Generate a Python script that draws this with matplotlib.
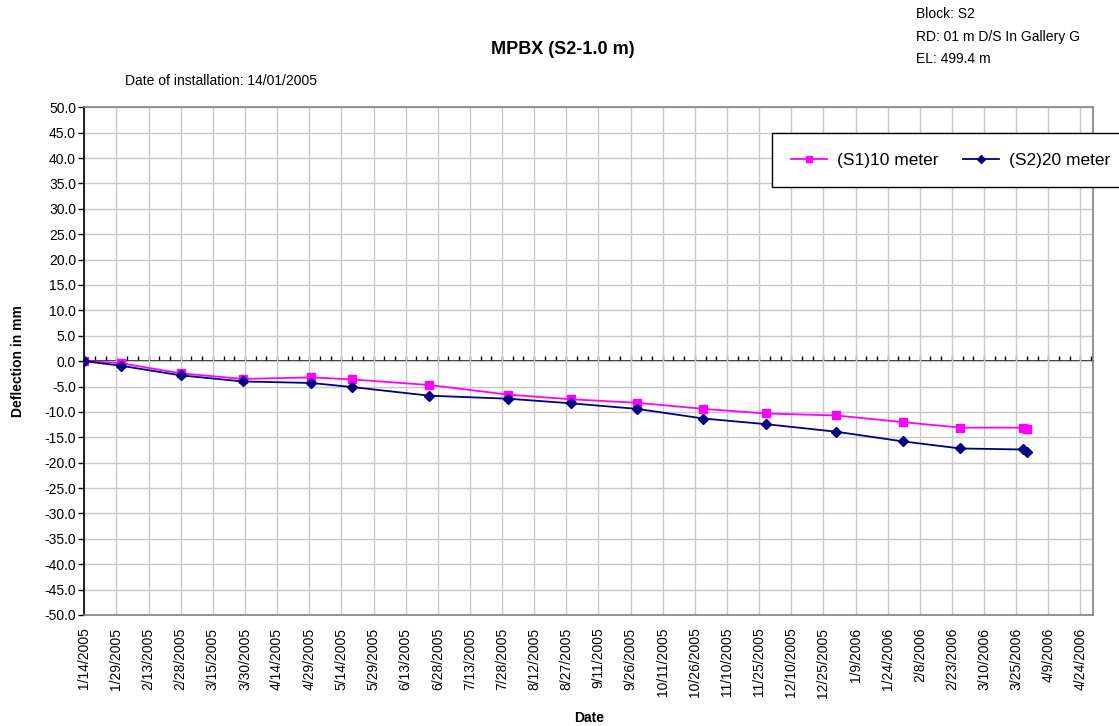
import matplotlib
matplotlib.use("Agg")
import matplotlib.pyplot as plt
import matplotlib.ticker as mticker
import matplotlib.dates as mdates
import pandas as pd

plt.rcParams['font.family'] = ['Liberation Sans', 'DejaVu Sans']

# ---- data ----
dates = ["2005-01-14", "2005-01-31", "2005-02-28", "2005-03-29", "2005-04-30",
         "2005-05-19", "2005-06-24", "2005-07-31", "2005-08-29", "2005-09-29",
         "2005-10-30", "2005-11-28", "2005-12-31", "2006-01-31", "2006-02-27",
         "2006-03-28", "2006-03-30"]
s1_10m = [0.0, -0.4, -2.4, -3.5, -3.2, -3.6, -4.7, -6.6, -7.5, -8.2,
          -9.4, -10.3, -10.7, -12.0, -13.1, -13.1, -13.4]
s2_20m = [0.0, -0.9, -2.8, -4.0, -4.3, -5.1, -6.8, -7.4, -8.3, -9.4,
          -11.3, -12.4, -13.9, -15.8, -17.2, -17.4, -17.8]
series_names = ["(S1)10 meter", "(S2)20 meter"]
y_ticks = [-50 + 5 * i for i in range(21)]
x_start, x_last_tick, x_end = "2005-01-14", "2006-04-24", "2006-04-30"

d = pd.to_datetime(dates)

fig = plt.figure(figsize=(11.19, 7.26), dpi=100)
ax = fig.add_axes([84.3 / 1119, 1 - 615 / 726, (1093.3 - 84.3) / 1119, (615 - 107.3) / 726])

ax.plot(d, s1_10m, color="#FF00FF", lw=1.3, marker="s", ms=6, mec="#FF00FF", label=series_names[0], zorder=4)
ax.plot(d, s2_20m, color="#000080", lw=1.3, marker="D", ms=5.5, mec="#000080", label=series_names[1], zorder=5)

ax.set_xlim(pd.Timestamp(x_start), pd.Timestamp(x_end))
ax.set_ylim(-50, 50)
ax.set_yticks(y_ticks)
ax.set_yticklabels([f"{v:.1f}" for v in y_ticks], fontsize=10)

xt = pd.date_range(x_start, x_last_tick, freq="15D")
ax.set_xticks(xt)
ax.set_xticklabels([f"{t.month}/{t.day}/{t.year}" for t in xt], rotation=90, fontsize=10)
ax.tick_params(axis="x", length=0, pad=9)
ax.tick_params(axis="y", length=4, direction="out", color="black", width=1, pad=2)

ax.grid(True, color="#c8c8c8", lw=1)
ax.set_axisbelow(True)
for s in ["top", "right", "bottom"]:
    ax.spines[s].set_color("#808080")
    ax.spines[s].set_linewidth(1.2)
ax.spines["left"].set_color("black")
ax.spines["left"].set_linewidth(1.2)

# horizontal axis line at zero with tick marks
sec = ax.secondary_xaxis(0.5)
for s in sec.spines.values():
    s.set_color("black")
    s.set_linewidth(1.2)
sec.set_xticks(xt)
sec.xaxis.set_minor_locator(mticker.FixedLocator(
    mdates.date2num(pd.date_range(x_start, x_end, freq="5D"))))
sec.xaxis.set_major_formatter(mticker.NullFormatter())
sec.xaxis.set_minor_formatter(mticker.NullFormatter())
sec.tick_params(axis="x", which="both", direction="out", length=3.5, width=1,
                labelbottom=False, labeltop=False, color="black")

ax.set_ylabel("Deflection in mm", fontsize=10, fontweight="bold", labelpad=14)
ax.set_xlabel("Date", fontsize=10, fontweight="bold", labelpad=10)

fig.text(563 / 1119, 1 - 50 / 726, "MPBX (S2-1.0 m)", ha="center", va="center", fontsize=13, fontweight="bold")
tx = 916 / 1119
fig.text(tx, 1 - 14 / 726, "Block: S2", ha="left", va="center", fontsize=10)
fig.text(tx, 1 - 37 / 726, "RD: 01 m D/S In Gallery G", ha="left", va="center", fontsize=10)
fig.text(tx, 1 - 59 / 726, "EL: 499.4 m", ha="left", va="center", fontsize=10)
fig.text(125 / 1119, 1 - 81 / 726, "Date of installation: 14/01/2005", ha="left", va="center", fontsize=10)

leg = fig.legend(loc="lower left", bbox_to_anchor=(771.7 / 1119, 1 - 186.7 / 726), ncol=2,
                 borderaxespad=0,
                 fontsize=12.5, frameon=True, fancybox=False, edgecolor="black", framealpha=1,
                 handlelength=2.1, columnspacing=1.4, handletextpad=0.55, borderpad=1.1,
                 markerscale=0.8)
leg.get_frame().set_linewidth(1.0)

fig.savefig("out.png", dpi=100)
